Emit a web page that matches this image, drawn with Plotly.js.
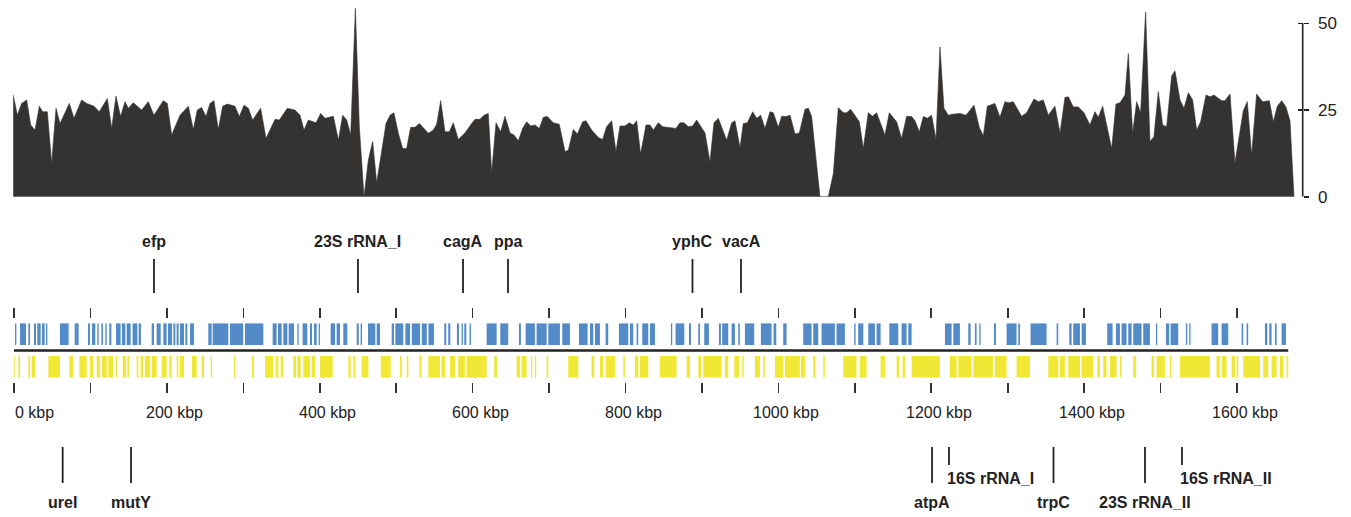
<!DOCTYPE html>
<html><head><meta charset="utf-8">
<script src="https://cdn.plot.ly/plotly-3.0.1.min.js"></script>
<style>html,body{margin:0;padding:0;background:#fff;}#chart{width:1351px;height:517px;}</style>
</head><body><div id="chart"></div>
<script>
// ---------------- DATA ----------------
const GENOME_KBP = 1667;
const tickKbp = [0,100,200,300,400,500,600,700,800,900,1000,1100,1200,1300,1400,1500,1600];
const labelKbp = [0,200,400,600,800,1000,1200,1400,1600];
const labelText = ['0 kbp','200 kbp','400 kbp','600 kbp','800 kbp','1000 kbp','1200 kbp','1400 kbp','1600 kbp'];
const depthTicks = [0,25,50];

// coverage profile (position in kbp, depth)
const covKbp = [-1,4.4,10.0,16.6,21.8,27.5,33.2,37.5,43.6,49.3,55.0,60.2,72.4,78.5,88.5,95.1,104.6,111.6,122.1,127.8,133.4,139.5,145.2,149.6,156.1,167.0,175.7,183.1,195.3,200.6,206.2,217.2,228.1,234.6,239.8,245.5,251.2,256.4,261.6,267.3,273.0,279.1,289.1,294.8,300.9,306.6,312.2,322.7,329.7,341.5,347.1,357.6,367.6,374.2,379.4,385.1,395.1,401.2,406.9,417.8,424.4,430.0,435.3,440.5,446.6,451.8,457.9,463.6,469.2,474.5,486.7,491.9,497.1,502.8,508.5,513.7,518.9,524.6,530.3,542.1,548.6,553.0,558.2,563.8,
569.5,574.7,581.3,590.0,598.7,603.1,609.6,614.9,620.5,624.9,630.6,636.7,642.3,648.9,654.1,659.8,665.4,670.7,675.9,681.6,687.2,692.5,697.7,705.5,713.4,720.8,725.2,731.7,737.0,743.9,748.3,755.7,764.4,770.1,775.3,781.9,787.5,792.8,799.3,805.0,810.2,814.6,819.8,826.8,832.0,836.4,842.9,848.6,866.0,871.3,876.5,882.2,887.8,893.1,904.0,910.5,915.7,921.4,932.3,938.9,943.2,949.8,954.1,959.4,966.3,971.6,976.8,982.5,989.0,993.4,999.9,1004.3,1010.0,1015.2,1021.7,1027.4,1034.8,1039.2,1043.5,1054.4,1065.3,1071.9,1078.4,1084.9,1089.3,1094.5,1105.9,1111.1,1117.6,1123.3,1128.5,1139.4,
1145.1,1154.7,1161.2,1167.8,1174.3,1178.7,1184.4,1189.6,1194.8,1200.5,1206.2,1211.4,1216.6,1222.3,1228.0,1237.6,1245.4,1255.9,1262.8,1268.1,1273.3,1283.3,1289.9,1296.4,1300.8,1307.3,1318.2,1324.8,1334.4,1340.0,1346.6,1353.1,1361.8,1368.4,1374.9,1379.3,1385.8,1392.4,1399.8,1407.6,1414.2,1418.5,1424.2,1436.0,1441.6,1446.9,1453.4,1457.8,1463.4,1468.7,1473.9,1480.4,1486.1,1491.3,1497.0,1502.7,1507.9,1514.5,1518.8,1525.4,1530.6,1536.3,1541.9,1547.2,1552.4,1559.4,1564.6,1569.8,1579.9,1584.2,1590.8,1597.3,1608.2,1613.4,1619.1,1625.6,1633.5,1642.2,1647.5,1652.7,1658.4,1664.0,1669.3,1674.5];
const covDepth = [29.3,23.5,26.9,27.9,20.7,19.2,26.1,24.5,24.5,9.6,25.5,21.1,26.9,22.6,27.9,26.9,26.1,24.5,28.3,19.7,29,23.1,27.4,25.5,27.1,25,27.4,23.5,27.7,26.9,17.8,23.5,26.1,19.4,25,25.7,23.1,26.9,27.7,19.4,26.1,26.7,26.1,23.1,26.4,25.5,22.1,25.5,16.8,22.3,22.1,25.5,25,23.5,19.2,22.1,21.3,24,22.6,23.2,16.3,23.5,22.1,17.8,54.3,20.2,0,10.6,15.9,4,21.1,23.5,24.2,18.3,13.9,13.9,20,20,21.1,18.3,19.2,20.9,27.7,18.7,
18.7,21.3,16.5,18.4,21.1,22.3,22.3,23.5,24,6.9,21.3,18.7,23.2,18.4,17.8,16.1,19.7,21.6,20.4,20.7,19.7,22.9,23.1,21.3,20.9,13,13.4,19.4,18.1,21.6,21.9,19.2,17.1,16.5,20.2,21.9,13,20.4,20.4,21.3,20.7,21.9,12.3,20.7,20.7,19.2,21.3,20.2,19.7,21.3,21.3,20.2,20.4,22.1,18.4,10.1,21.3,22.6,16.3,21.3,21.9,14.2,21.1,21.3,24.5,22.6,23.5,19.7,24.5,24.2,20,23.2,23.1,23.5,18.1,18.4,25.2,25.5,23.1,0,0,6.7,25.7,24.2,24.2,25.2,21.6,13.9,24.2,23.2,24.2,17.8,
24.2,21.6,16.8,23.2,23.1,21.9,18.7,23.1,22.6,23.5,16.5,43.2,25.5,23.5,23.8,24,23.5,26.4,20,17.5,26.1,26.9,22.9,27.4,27.1,27.4,23.2,24.2,28.2,27.4,27.9,23.5,26.1,18.4,28.6,28.8,25.9,25.9,24.2,20.7,24.5,22.9,26.1,13.9,26.7,27.1,29.3,41.3,18.3,27.4,24.2,53.3,15.9,17.3,30.3,20.7,20.2,34.8,36.3,27.9,25.5,30,27.9,19.2,21.6,29.3,28.8,29.3,27.7,27.7,29.6,9.8,24.8,27.4,12,29.6,27.4,27.7,21.6,26.1,27.7,25.9,21.9,0];

// coding regions, plus strand (kbp)
const plusStart = [1.3,7.9,18.8,26.2,30.5,36.6,41.9,60.2,79.4,96.8,102,109,114.3,119.5,124.7,133.5,141.3,147.4,155.2,163.1,180.1,186.6,195.4,201.5,208.5,212.8,217.2,224.2,230.3,254.2,259.9,282.6,302.2,338.4,345.4,352.3,359.3,370.7,377.6,387.2,392.5,398.6,414.3,422.1,430.8,448.3,453.5,463.1,474.5,494.1,498.9,512,520.4,533.5,542.2,
562.9,568.1,579.5,585.6,589.1,596,618.3,636.2,660.6,669.3,683.7,699,717.3,739.1,753.5,760,774,791.4,805.8,814.5,821.9,832,859.4,865.5,883,895.2,903,922.2,926.5,938.8,947.5,956.2,977.1,993.7,1006.3,1032.5,1045.6,1056.5,1076.1,1099.2,1104.4,
1117.6,1128.5,1145.1,1161.2,1169.9,1217.9,1228.8,1248.4,1257.1,1262.8,1282,1298.5,1313.8,1329.9,1364,1380.5,1385.7,1396.7,1430.2,1441.6,1449,1457.7,1464.2,1477.3,1493.9,1507,1513.1,1533.1,1537.5,1566.7,1579.8,1606,1612.5,1636.5,1642.2,1649.6,1658.3];
const plusEnd = [3.1,15.7,21,28.8,34.9,40.1,43.6,71.5,84.6,99.4,106.4,110.8,116.4,121.3,127.4,139.5,145.7,152.6,161.4,166.1,183.2,191.9,199.7,206.7,211.1,215.4,222.4,226.8,235.5,258.6,280.4,299.9,326.2,343.6,350.2,357.6,366.3,372.4,383.7,389.9,396,400.3,420,426.5,436.1,451,455.3,472.7,478.8,497.1,509.3,518.2,531.3,540,549.5,
565.5,570.8,582.1,587.3,591.7,597.8,631.4,646.6,663.2,681.5,696.8,714.2,727.3,750.4,757.8,766.5,777.4,803.6,810.1,816.7,829.8,838.5,861.1,876.9,885.6,897.4,909.1,924.8,934.4,943.1,949.6,968.4,991.1,997.2,1010.7,1043.4,1052.1,1073.9,1087,1101,1111.1,
1126.3,1133.7,1156.8,1167.7,1174.3,1226.6,1237.5,1251.5,1259.3,1264.5,1284.6,1311.6,1316,1350.9,1366.1,1383.6,1394.5,1402.3,1437.2,1446.8,1455.5,1462.1,1475.1,1486,1495.6,1511.3,1523.1,1534.9,1539.2,1575.4,1588.5,1608.1,1614.6,1639.6,1645.2,1651.8,1664];

// coding regions, minus strand (kbp)
const minusStart = [0,5.7,18.8,23.1,45,72.4,85.5,99.4,108.2,114.7,123.4,133.5,142.2,148.3,160.5,165.7,171.4,180.1,193.2,203.2,212.8,217.2,232.9,245.5,257.3,287.8,311.4,328.4,342.3,348.9,365.4,370.7,378.5,389.4,400.3,437.4,443.9,454.8,479.7,505,513.7,530.3,542,559.4,570.3,581.2,592.1,628.3,657.5,664.1,676.3,681.5,696.8,725.1,755.6,766.5,774,797.1,812.3,818.8,845,879.9,895.2,901.7,930,942.3,952.7,969.3,980.2,995.4,1008.5,1029.4,1045.6,1058.7,1084.8,1106.6,1133.7,1154.7,1162.5,1174.3,1224.4,1235.3,1255,1283.3,1311.6,1353.1,1368.3,1379.2,1396.7,1417.1,1425,1433.7,1446.8,1464.2,1488.2,1494.8,1512.2,1525.3,1573.2,1579.8,1592.9,1599.4,1608.1,1634.3,1645.2,1656.1,1664.8];
const minusEnd = [1,7.9,21,27.5,60.2,77.6,95.1,103.8,112.5,121.3,130,135.2,146.5,150.9,162.7,169.2,178,186.7,199.7,206.3,215,222.4,239,248.6,259,289.6,314,339.3,345.8,352.4,369,375,387.2,393.8,416.9,440.5,446.5,463.6,492.8,507.2,515.9,533.3,557.2,563.8,576.9,589.9,618.3,631.8,661.9,670.6,678,683.2,699,738.2,759.1,770.9,786.2,799.2,816.7,829.8,866.8,884.3,899.5,925.7,934.4,948.4,954.5,975.8,982.3,1006.3,1028.1,1034.7,1048.6,1060.8,1102.2,1115.4,1139.4,1158.1,1165.6,1211.3,1233.1,1252.8,1281.1,1298.5,1329.1,1366.1,1374.8,1394.5,1411.9,1420.6,1429.3,1442.4,1449,1467.7,1491.3,1505.6,1514.4,1564.5,1577.6,1586.3,1597.2,1601.6,1630,1640.8,1651.8,1660.5,1667];

// annotated genes
const geneName = ['efp','23S rRNA_I','cagA','ppa','yphC','vacA','ureI','mutY','atpA','16S rRNA_I','trpC','23S rRNA_II','16S rRNA_II'];
const geneKbp  = [183.1,450,587.4,646.3,887.6,951.1,63.7,153.1,1201,1223.2,1359.9,1479.6,1528];
const geneSide = ['top','top','top','top','top','top','bottom','bottom','bottom','bottom','bottom','bottom','bottom'];
const geneRow  = ['long','long','long','long','long','long','long','long','long','short','long','long','short'];

// ---------------- STYLE ----------------
const W = 1351, H = 517;
const py = px => 1 - px / H;
const XR = [-18.3, 1749.1];
const FONT = 'Liberation Sans, Arial, Helvetica, sans-serif';
const INK = '#222222';
const BAR_IN = 5.5, BAR_H = 21.6;

const mid = (s, e) => s.map((v, i) => (v + e[i]) / 2);
const wid = (s, e) => s.map((v, i) => e[i] - v);

const traces = [
  { type: 'scatter', mode: 'lines', x: [covKbp[0], covKbp[covKbp.length - 1]], y: [0, 0],
    line: { color: '#9b9b9b', width: 1 }, xaxis: 'x', yaxis: 'y2', hoverinfo: 'skip', showlegend: false },
  { type: 'scatter', mode: 'lines', x: covKbp, y: covDepth, fill: 'tozeroy',
    fillcolor: '#353331', line: { color: '#353331', width: 0.6 },
    xaxis: 'x', yaxis: 'y2', hoverinfo: 'skip', showlegend: false },
  { type: 'scatter', mode: 'lines', x: [null], y: [null], xaxis: 'x', yaxis: 'y3', hoverinfo: 'skip', showlegend: false },
  { type: 'bar', x: mid(plusStart, plusEnd), width: wid(plusStart, plusEnd),
    y: plusStart.map(() => BAR_H), base: BAR_IN,
    marker: { color: '#4a85c7', line: { width: 0 } }, opacity: 0.95,
    xaxis: 'x2', yaxis: 'y', hoverinfo: 'skip', showlegend: false },
  { type: 'bar', x: mid(minusStart, minusEnd), width: wid(minusStart, minusEnd),
    y: minusStart.map(() => BAR_H), base: -(BAR_IN + BAR_H),
    marker: { color: '#f1e72c', line: { width: 0 } }, opacity: 0.95,
    xaxis: 'x', yaxis: 'y', hoverinfo: 'skip', showlegend: false },
  { type: 'scatter', mode: 'lines', x: [0, GENOME_KBP], y: [0, 0],
    line: { color: INK, width: 2.6 }, xaxis: 'x', yaxis: 'y', hoverinfo: 'skip', showlegend: false }
];

const shapes = [
  { type: 'line', xref: 'paper', x0: 1302.7 / W, x1: 1302.7 / W, yref: 'y2', y0: 0, y1: 50,
    line: { color: INK, width: 1.6 } }
];
const annotations = [];

geneName.forEach((name, i) => {
  const top = geneSide[i] === 'top';
  const short = geneRow[i] === 'short';
  const y0 = top ? py(293) : py(447);
  const y1 = top ? py(259) : (short ? py(465) : py(483));
  shapes.push({ type: 'line', xref: 'x', yref: 'paper', x0: geneKbp[i], x1: geneKbp[i], y0, y1,
    line: { color: INK, width: 1.8 } });
  annotations.push({
    text: '<b>' + name + '</b>', xref: 'x', yref: 'paper', x: geneKbp[i],
    y: top ? py(241) : (short ? py(478) : py(502)),
    xanchor: short ? 'left' : 'center', xshift: short ? -4 : 0, yanchor: 'middle',
    showarrow: false, font: { family: FONT, size: 16, color: INK }
  });
});

labelKbp.forEach((v, i) => {
  annotations.push({
    text: labelText[i], xref: 'x', yref: 'paper', x: v, y: py(412),
    xanchor: i === 0 ? 'left' : 'center', xshift: i === 0 ? -1 : 8, yanchor: 'middle',
    showarrow: false, font: { family: FONT, size: 16, color: INK }
  });
});

const tickAxis = side => ({
  range: XR, domain: [0, 1], anchor: 'y', side,
  tickmode: 'array', tickvals: tickKbp, ticks: 'outside', ticklen: 10, tickwidth: 1.6, tickcolor: '#333',
  showticklabels: false, showline: false, showgrid: false, zeroline: false, fixedrange: true
});

const layout = {
  width: W, height: H,
  margin: { l: 0, r: 0, t: 0, b: 0, pad: 0 },
  paper_bgcolor: '#ffffff', plot_bgcolor: 'rgba(0,0,0,0)',
  showlegend: false, barmode: 'overlay',
  font: { family: FONT, color: INK },
  xaxis: tickAxis('bottom'),
  xaxis2: Object.assign(tickAxis('top'), { overlaying: 'x' }),
  yaxis: { domain: [py(381.7), py(319)], range: [-31.2, 31.5], visible: false, fixedrange: true },
  yaxis2: {
    domain: [py(196.7), py(2.5)], range: [0, 56], anchor: 'free', position: 1302.7 / W, side: 'right',
    tickmode: 'array', tickvals: depthTicks, ticks: 'outside', ticklen: 5, tickwidth: 1.6, tickcolor: INK,
    ticklabelstandoff: 6, tickfont: { family: FONT, size: 17, color: INK },
    showline: false, showgrid: false, zeroline: false, fixedrange: true
  },
  yaxis3: {
    overlaying: 'y2', range: [0, 56], anchor: 'free', position: 1302.7 / W, side: 'right',
    tickmode: 'array', tickvals: depthTicks, ticks: 'inside', ticklen: 5, tickwidth: 1.6, tickcolor: INK,
    showticklabels: false, showline: false, showgrid: false, zeroline: false, fixedrange: true
  },
  shapes, annotations
};

Plotly.newPlot('chart', traces, layout, { staticPlot: true, displayModeBar: false });
</script>
</body></html>
